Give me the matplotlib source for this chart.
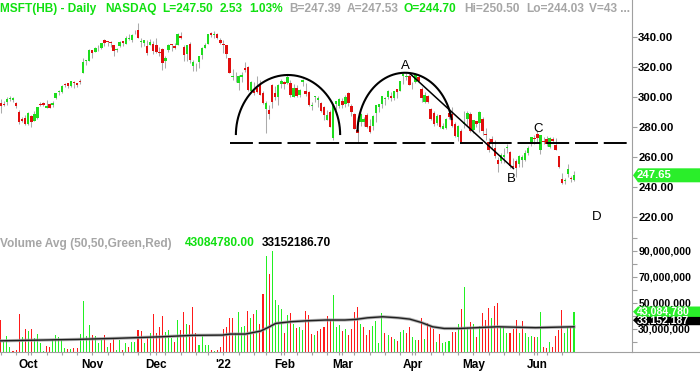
import matplotlib
matplotlib.use("Agg")
import matplotlib.pyplot as plt
import numpy as np
import pandas as pd
from matplotlib.patches import Polygon
from matplotlib.lines import Line2D

plt.rcParams['font.family'] = ['Liberation Sans', 'DejaVu Sans']
plt.rcParams['font.weight'] = 'bold'
plt.rcParams['lines.scale_dashes'] = False

# ---------------- data ----------------
start_date = '2021-09-20'
end_date = '2022-06-17'
holidays = ['2021-11-25', '2021-12-24', '2022-01-17', '2022-02-21', '2022-04-15', '2022-05-30']
prior_close = 299.87

opens = [
    296.33, 295.69, 296.73, 298.85, 298.23, 296.14, 289.80, 285.10, 285.71,
    282.12, 287.40, 284.05, 285.78, 295.18, 296.22, 292.92, 295.34, 294.91, 299.21, 303.57,
    303.57, 308.35, 309.36, 307.17, 310.40, 309.36, 311.00, 316.00, 324.33, 324.13,
    331.36, 330.31, 333.90, 332.89, 338.51, 337.30, 337.11, 334.57, 331.20, 333.92, 337.54,
    335.68, 338.94, 338.18, 342.64, 344.62, 337.05, 336.28, 334.35, 334.94, 335.32,
    335.13, 330.30, 331.99, 323.95, 331.64, 335.31, 334.41, 334.98, 340.68, 333.22, 328.61,
    335.71, 320.88, 320.05, 323.29, 328.30, 332.75, 335.46, 343.15, 341.30, 341.91, 338.51,
    335.35, 334.83, 325.86, 313.15, 314.15, 309.49, 313.38, 319.67, 320.47, 304.25,
    304.07, 306.29, 309.07, 302.69, 292.20, 291.52, 307.99, 302.66, 300.23, 308.95,
    310.41, 309.63, 309.49, 300.21, 306.17, 301.25, 309.87, 304.04, 303.19, 293.77,
    299.96, 298.37, 296.36, 293.05, 285.00, 290.18, 272.51, 295.14, 294.31,
    297.07, 295.36, 302.89, 294.29, 288.53, 277.80, 283.44, 283.02, 287.96, 280.34, 280.35,
    289.11, 293.29, 295.37, 298.89, 299.80, 300.51, 299.14, 305.23, 304.33, 313.91, 313.76, 313.90,
    309.37, 310.09, 313.27, 305.19, 296.66, 300.44, 291.79, 289.24, 282.73, 288.09,
    278.91, 279.38, 289.40, 288.58, 281.68, 273.29, 277.50, 282.10, 285.19, 288.61,
    277.71, 283.96, 282.59, 285.54, 274.81, 270.06, 271.69, 265.68, 257.69, 257.35, 259.96,
    266.11, 263.00, 253.90, 257.24, 255.49, 257.89, 258.14, 262.27, 268.48, 272.53,
    275.20, 264.45, 270.31, 272.06, 266.64, 271.71, 267.78, 260.58, 245.11, 243.86, 248.31,
    245.98, 244.70]
highs = [
    298.72, 297.54, 300.22, 300.90, 299.80, 296.47, 291.36, 286.77, 287.83,
    289.98, 287.75, 290.40, 293.63, 296.64, 296.64, 297.97, 295.95, 297.70, 303.00, 304.45,
    308.21, 309.30, 309.55, 311.09, 311.09, 309.55, 312.40, 326.10, 324.86, 332.00,
    331.49, 333.45, 334.90, 336.54, 338.79, 337.65, 337.65, 334.63, 332.99, 337.23, 337.88,
    340.67, 342.19, 342.45, 345.10, 349.67, 339.45, 338.16, 337.93, 339.03, 337.78,
    339.28, 333.49, 332.70, 327.45, 335.80, 335.50, 336.49, 343.00, 343.79, 334.64, 335.19,
    336.76, 324.92, 322.80, 327.73, 333.61, 336.39, 342.48, 343.81, 344.30, 343.13, 339.36,
    338.00, 335.20, 326.07, 318.70, 316.50, 314.72, 316.61, 323.41, 320.88, 310.82,
    309.80, 313.91, 311.65, 304.11, 297.11, 294.99, 308.50, 307.32, 308.48, 312.38,
    310.63, 315.12, 311.23, 308.80, 307.84, 305.56, 311.93, 309.12, 304.29, 296.76,
    300.80, 300.87, 296.80, 293.86, 291.54, 291.70, 295.16, 297.63, 299.14,
    299.30, 301.47, 303.13, 295.66, 289.69, 283.96, 289.60, 286.60, 289.51, 285.40, 288.21,
    294.57, 295.66, 301.00, 300.14, 305.00, 303.23, 304.20, 305.50, 310.80, 315.82, 315.95, 315.14,
    310.13, 315.11, 314.87, 307.00, 303.65, 301.12, 292.61, 290.74, 288.58, 288.31,
    282.46, 286.17, 289.70, 293.30, 283.20, 281.11, 278.36, 290.97, 290.98, 289.88,
    284.94, 284.13, 290.88, 286.35, 279.25, 272.36, 273.75, 271.36, 259.88, 262.45, 265.82,
    268.33, 263.60, 258.95, 258.54, 261.50, 261.33, 264.58, 267.11, 273.34, 274.77,
    277.69, 274.65, 273.45, 274.18, 273.13, 273.00, 272.71, 260.58, 249.02, 245.74, 255.30,
    247.42, 250.50]
lows = [
    289.52, 294.07, 294.51, 297.53, 296.93, 292.94, 281.87, 283.01, 281.62,
    281.29, 280.25, 284.05, 285.51, 293.92, 294.08, 292.75, 292.66, 293.69, 299.00, 301.74,
    302.69, 306.67, 306.06, 306.72, 306.34, 306.46, 308.60, 316.00, 321.36, 323.90,
    326.37, 330.00, 331.09, 332.50, 334.42, 334.44, 333.44, 327.44, 330.24, 333.79, 334.03,
    335.51, 338.00, 337.12, 342.20, 339.55, 333.56, 333.91, 328.12, 334.74, 328.99,
    329.39, 327.80, 318.03, 319.23, 330.10, 330.80, 332.12, 334.79, 339.08, 324.11, 324.50,
    323.02, 317.25, 317.57, 319.80, 325.75, 332.73, 335.43, 340.32, 339.68, 338.82, 335.85,
    329.78, 326.12, 315.98, 311.49, 310.09, 304.69, 309.89, 317.08, 304.00, 303.75,
    301.74, 302.71, 301.14, 295.61, 276.05, 285.17, 293.03, 297.93, 294.45, 306.37,
    305.13, 308.88, 299.96, 299.97, 299.90, 299.95, 307.39, 300.70, 294.22, 291.35,
    297.02, 293.68, 290.00, 284.98, 284.50, 280.10, 271.52, 291.65, 293.00,
    292.69, 293.70, 294.05, 287.17, 278.53, 270.00, 280.78, 280.58, 279.43, 275.82, 278.21,
    283.20, 290.00, 292.73, 294.90, 298.77, 297.72, 298.32, 299.29, 304.33, 309.05, 311.58, 307.89,
    305.54, 309.71, 309.87, 296.71, 296.35, 296.28, 285.00, 280.49, 281.30, 279.32,
    278.34, 278.41, 285.37, 280.06, 273.38, 270.77, 270.00, 279.16, 281.46, 276.50,
    276.22, 280.15, 276.73, 274.34, 271.27, 263.32, 265.07, 259.30, 250.02, 255.82, 255.78,
    262.46, 252.77, 251.87, 246.44, 253.43, 253.50, 257.13, 261.43, 267.56, 268.93,
    270.04, 261.60, 268.41, 267.22, 265.94, 269.61, 264.63, 252.53, 241.53, 241.51, 246.42,
    243.02, 244.03]
closes = [
    294.30, 294.80, 298.58, 299.56, 299.35, 294.17, 283.52, 284.00, 281.92,
    289.10, 283.11, 288.76, 293.11, 294.85, 294.85, 294.23, 292.88, 296.31, 302.75, 304.21,
    307.29, 308.23, 307.41, 310.76, 309.16, 308.13, 310.11, 323.17, 324.35, 331.62,
    329.37, 333.13, 334.00, 336.44, 336.06, 336.99, 335.95, 330.80, 332.43, 336.72, 336.07,
    339.51, 339.12, 341.27, 343.11, 339.83, 337.68, 337.91, 329.68, 336.63, 330.59,
    330.08, 329.49, 323.01, 326.19, 334.92, 334.97, 333.10, 342.54, 339.40, 328.34, 334.65,
    324.90, 323.80, 319.91, 327.29, 333.20, 334.69, 342.45, 341.25, 341.95, 339.32, 336.32,
    334.75, 329.01, 316.38, 313.88, 314.04, 314.27, 314.98, 318.27, 304.80, 310.20,
    302.65, 303.33, 301.60, 296.03, 296.37, 288.49, 296.71, 299.84, 308.26, 310.98,
    308.76, 313.46, 301.25, 305.94, 300.95, 304.56, 311.21, 302.38, 295.04, 295.00,
    300.47, 299.50, 290.73, 287.93, 287.72, 280.27, 294.59, 297.31, 298.79,
    294.95, 300.19, 295.92, 289.86, 278.91, 275.85, 288.50, 285.59, 280.07, 276.44, 287.15,
    294.39, 295.22, 300.43, 299.16, 304.06, 299.49, 304.10, 303.68, 310.70, 315.41, 313.86, 308.31,
    309.42, 314.97, 310.88, 299.50, 301.37, 296.97, 285.26, 282.06, 287.62, 279.83,
    280.52, 285.30, 286.36, 280.81, 274.03, 280.72, 270.22, 283.22, 289.63, 277.52,
    284.47, 281.78, 289.98, 277.35, 274.73, 264.58, 269.50, 260.55, 255.35, 261.12, 261.50,
    266.82, 254.08, 253.14, 252.56, 260.65, 259.62, 262.52, 265.90, 273.24, 271.87,
    272.42, 274.58, 270.02, 268.75, 272.50, 270.41, 264.79, 252.99, 242.26, 244.49, 251.76,
    244.97, 247.65]

# volume in millions of shares
volumes_m = [
    36.7, 20, 24.6, 16, 13, 14, 41.3, 24, 30, 28,
    29.5, 22.5, 26, 18.7, 13, 16.7, 15.6, 21.3, 25, 23.3,
    21.8, 14.9, 14.3, 14.3, 15.4, 15.4, 26, 51.3, 24.3, 32.8,
    24.9, 24.3, 19.2, 21.3, 25, 16, 18.7, 22.5, 14, 21.3,
    14, 18.7, 16, 20, 20, 29, 28.5, 19.2, 22.5, 26.4,
    41.3, 26.9, 31, 40, 27.7, 29, 22.5, 20, 36.7, 29,
    43, 33.6, 32.8, 46.4, 26.4, 17.4, 24.3, 17.4, 17.4, 13.6,
    13, 14, 16, 30, 31, 38.5, 38, 26.9, 43, 31,
    32, 43.6, 38, 41.3, 44.3, 33.6, 57, 85.9, 72, 89.7,
    52, 48, 44.9, 26.4, 40.5, 42.3, 33.6, 30.2, 31, 29,
    43.6, 40.5, 25.9, 25.1, 28.4, 29.5, 31.5, 40, 36.7, 55.9,
    31, 32.8, 28.4, 29.7, 25.1, 29.5, 43, 46.4, 33.6, 31,
    25.1, 29, 32, 36.1, 18.7, 41.8, 26.4, 25.1, 23.3, 21.8,
    20.8, 27.7, 29, 26.4, 31, 23.3, 21.3, 21.3, 38, 21.8,
    34.6, 31.5, 29.5, 20, 25.9, 18.7, 20, 20.8, 27.7, 27.7,
    33.6, 44.9, 62.3, 31.5, 35.4, 33.6, 23.8, 32, 41.8, 36.7,
    46.1, 37.9, 47.4, 49.5, 31, 31.5, 26.9, 26.4, 29.5, 36.7,
    26.4, 36.1, 26.4, 23.8, 24.3, 23.3, 23.3, 42.6, 16, 15.4,
    20, 15.6, 24.3, 29, 44.3, 27, 31, 31.5, 43.08]

# volume average line (bar index, millions)
avg_idx = [0, 25.1, 37.6, 52.6, 62.7, 72.7, 75.2, 80.2, 85.2, 87.7, 90.2, 95.2, 100.3,
           106.5, 112.8, 116.5, 120.3, 125.3, 130.3, 134.1, 137.8, 141.6, 145.4,
           150.4, 157.9, 163, 175.4, 188]
avg_vals_m = [20.7, 21.8, 22.6, 23.8, 24.9, 25.1, 25.9, 25.9, 28.2, 31.0, 34.1, 35.4, 36.1,
              36.7, 36.7, 37.2, 38.4, 39.2, 38.4, 37.4, 34.9, 31.5, 30.2,
              30.2, 31.0, 31.5, 30.8, 31.5]

month_labels = ['Oct', 'Nov', 'Dec', "'22", 'Feb', 'Mar', 'Apr', 'May', 'Jun']
price_ticks = [220, 240, 260, 280, 300, 320, 340]
vol_ticks_m = [20, 30, 40, 50, 60, 70, 80, 90, 100]
vol_labeled_m = [30, 50, 70, 90]

last_price_label = '247.65'
last_price = 247.65
last_volume_m = 43.08478
last_volume_label = '43,084,780'
avg_volume_label = '33,152,187'

header_chunks = [("MSFT(HB) - Daily", 0, 'g'), ("NASDAQ", 105, 'g'), ("L=247.50", 162, 'g'),
                 ("2.53", 220, 'g'), ("1.03%", 249, 'g'), ("B=247.39", 289, 'k'),
                 ("A=247.53", 347, 'k'), ("O=244.70", 404, 'g'), ("Hi=250.50", 464, 'k'),
                 ("Lo=244.03", 526, 'k'), ("V=43 ...", 589, 'k')]
vol_header_chunks = [("Volume Avg (50,50,Green,Red)", 0, 'k'), ("43084780.00", 185, 'g'),
                     ("33152186.70", 262, 'b')]

# pattern annotations (bar index, price)
neck_price = 269.6
neck_start = 75.2
arc1 = dict(cx=94.2, a=17.1, base=274.6, b=40.2, t0=0.0)
arc2 = dict(cx=132.6, a=15.6, base=276.8, b=39.5, t0=0.2)
diag = ((134.2, 315.7), (168.1, 252.3))
letters = [('A', 132.6, 320.8), ('B', 167.6, 245.2), ('C', 176.2, 278.6), ('D', 195.4, 220.0)]

# ---------------- style ----------------
GREEN = '#1EDC1E'
RED = '#E00E0E'
VGREEN = '#22F022'
VRED = '#FF1A1A'
WICK = '#ABABAB'
AXIS_GRAY = '#A0A0A0'
TXT_GREEN = '#10E010'
TXT_GRAY = '#A6A6A6'
MARK_GREEN = '#2AEE2A'

W, H, DPI = 700, 371, 100
AX_RIGHT = 632
PRICE_TOP, PRICE_BOTTOM, VOL_BOTTOM = 0, 232, 352
X0_PX, DX_PX = 0.8, 3.049

fig = plt.figure(figsize=(W / DPI, H / DPI), dpi=DPI)


def px_axes(left, top, right, bottom):
    return fig.add_axes([left / W, 1 - bottom / H, (right - left) / W, (bottom - top) / H])


ax = px_axes(0, PRICE_TOP, AX_RIGHT, PRICE_BOTTOM)
axv = px_axes(0, PRICE_BOTTOM, AX_RIGHT, VOL_BOTTOM)
xlim = (-X0_PX / DX_PX, (AX_RIGHT - X0_PX) / DX_PX)

dates = pd.bdate_range(start_date, end_date)
dates = dates[~dates.isin(pd.to_datetime(holidays))]
o, h, l, c = (np.array(v) for v in (opens, highs, lows, closes))
vol = np.array(volumes_m) * 1e6
idx = np.arange(len(c))

# candles
up = c >= o
ax.vlines(idx, l, h, color=WICK, lw=0.75, zorder=2)
body_h = np.maximum(np.abs(c - o), 0.35)
ax.bar(idx, body_h, bottom=np.minimum(o, c), width=0.8,
       color=np.where(up, GREEN, RED), lw=0, zorder=3)

# volume
prev = np.concatenate([[prior_close], c[:-1]])
vcol = np.where(c >= prev, VGREEN, VRED)
axv.bar(idx, vol, width=0.34, color=vcol, lw=0, zorder=2)
axv.plot(avg_idx, np.array(avg_vals_m) * 1e6, color='#9A9A9A', lw=2.3, alpha=0.75, zorder=3)
axv.plot(avg_idx, np.array(avg_vals_m) * 1e6, color='#202020', lw=1.0, zorder=4)

# annotations
ax.hlines(neck_price, neck_start, xlim[1], colors='black', lw=1.4,
          linestyles=(0, (16.5, 4.2)), zorder=5)
for arc in (arc1, arc2):
    t = np.linspace(arc['t0'], np.pi, 200)
    ax.plot(arc['cx'] + arc['a'] * np.cos(t), arc['base'] + arc['b'] * np.sin(t),
            color='black', lw=1.5, zorder=6, solid_capstyle='butt')
ax.plot([diag[0][0], diag[1][0]], [diag[0][1], diag[1][1]], color='black', lw=1.1, zorder=6)
for s, xx, yy in letters:
    ax.text(xx, yy, s, ha='center', va='center', fontsize=9.5, fontweight='normal',
            color='black', zorder=7)

# axes styling
for a in (ax, axv):
    for sp in a.spines.values():
        sp.set_visible(False)
    a.spines['right'].set_visible(True)
    a.spines['right'].set_color(AXIS_GRAY)
    a.yaxis.tick_right()
    a.set_xlim(*xlim)
    a.set_facecolor('none')

ax.set_ylim(209.7, 365.0)
ax.set_xticks([])
ax.set_yticks(price_ticks)
ax.set_yticklabels([f'{t:.2f}' for t in price_ticks])
ax.tick_params(axis='y', length=3.5, width=0.8, color=AXIS_GRAY, labelsize=8.2, pad=1)

axv.set_ylim(12.1e6, 104.4e6)
axv.set_yticks(np.array(vol_ticks_m) * 1e6)
axv.set_yticklabels([f'{v * 1e6:,.0f}' if v in vol_labeled_m else '' for v in vol_ticks_m])
axv.tick_params(axis='y', length=3.5, width=0.8, color=AXIS_GRAY, labelsize=7.6, pad=1)

axv.spines['bottom'].set_visible(True)
axv.spines['bottom'].set_color(AXIS_GRAY)
months = np.array([d.month for d in dates])
month_starts = [i for i in range(1, len(dates)) if months[i] != months[i - 1]]
weekdays = np.array([d.weekday() for d in dates])
week_starts = [0] + [i for i in range(1, len(dates)) if weekdays[i] < weekdays[i - 1]]
axv.set_xticks(month_starts)
axv.set_xticklabels(month_labels)
axv.set_xticks(week_starts, minor=True)
axv.tick_params(axis='x', which='both', length=2.2, width=0.8, color=AXIS_GRAY,
                labelsize=8.5, pad=2.5)

fig.add_artist(Line2D([AX_RIGHT / W, 1], [1 - VOL_BOTTOM / H] * 2, transform=fig.transFigure,
                      color=AXIS_GRAY, lw=0.8))

# header texts
cmap = {'g': TXT_GREEN, 'k': TXT_GRAY, 'b': 'black'}
for s, x, col in header_chunks:
    fig.text(x / W, 1 - 8.8 / H, s, color=cmap[col], fontsize=8.6, va='center', ha='left')
for s, x, col in vol_header_chunks:
    fig.text(x / W, 1 - 243.5 / H, s, color=cmap[col], fontsize=8.6, va='center', ha='left')


# right-side value markers
def marker(axis, yval, text, face, half_h, fs, dy_px=0.0):
    yc = axis.transData.transform((0, yval))[1] + dy_px
    xt = AX_RIGHT + 1
    pts = [(xt, yc), (xt + 5, yc + half_h), (W, yc + half_h), (W, yc - half_h), (xt + 5, yc - half_h)]
    fig.add_artist(Polygon([(px / W, py / H) for px, py in pts], closed=True,
                           transform=fig.transFigure, facecolor=face, edgecolor='none', zorder=5))
    fig.text((AX_RIGHT + 5) / W, yc / H, text, color='white', fontsize=fs,
             va='center', ha='left', zorder=6)


marker(ax, last_price, last_price_label, MARK_GREEN, 7, 8.2)
marker(axv, last_volume_m * 1e6, avg_volume_label, 'black', 5.0, 7.6, dy_px=-8.5)
marker(axv, last_volume_m * 1e6, last_volume_label, MARK_GREEN, 5.2, 7.6)

fig.savefig('out.png', dpi=DPI, facecolor='white')
